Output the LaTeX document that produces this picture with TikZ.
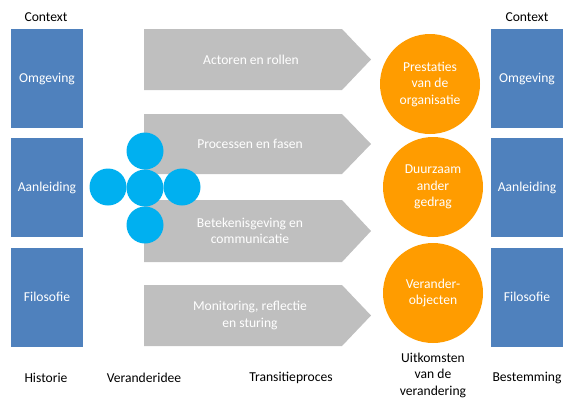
\documentclass[tikz,border=0pt]{standalone}
\usepackage{fontspec}
\setmainfont{Carlito}
\definecolor{boxblue}{HTML}{4F81BD}
\definecolor{arrowgrey}{HTML}{BFBFBF}
\definecolor{outorange}{HTML}{FF9C00}
\definecolor{ideacyan}{HTML}{00B0F0}
\tikzset{
  ctxbox/.style={fill=boxblue,text=white,minimum width=72pt,minimum height=99pt,inner sep=0pt},
  steptext/.style={text=white,align=center},
  outcome/.style={circle,fill=outorange,text=white,minimum size=100pt,inner sep=0pt,align=center},
  idea/.style={circle,fill=ideacyan,minimum size=37pt,inner sep=0pt},
  caption/.style={align=center}
}
\begin{document}
\begin{tikzpicture}[x=1pt,y=-1pt,font=\fontsize{13.6}{16.5}\selectfont]
\useasboundingbox (0,0) rectangle (565,400);
% context boxes
\node[ctxbox] (omg1) at (47,78.5) {Omgeving};
\node[ctxbox] (aan1) at (47,187.5) {Aanleiding};
\node[ctxbox] (fil1) at (47,297) {Filosofie};
\node[ctxbox] (omg2) at (527,78.5) {Omgeving};
\node[ctxbox] (aan2) at (527,187.5) {Aanleiding};
\node[ctxbox] (fil2) at (527,297) {Filosofie};
\node (ctx1) at (46,17) {Context};
\node (ctx2) at (527,17) {Context};
% transition arrows
\fill[arrowgrey] (144,29) -- (342,29) -- (371,59.5) -- (342,90) -- (144,90) -- cycle;
\fill[arrowgrey] (144,114) -- (342,114) -- (371,144) -- (342,174) -- (144,174) -- cycle;
\fill[arrowgrey] (144,200) -- (342,200) -- (371,231) -- (342,262) -- (144,262) -- cycle;
\fill[arrowgrey] (144,285) -- (342,285) -- (371,315.5) -- (342,346) -- (144,346) -- cycle;
\node[steptext] (actor) at (251,60) {Actoren en rollen};
\node[steptext] (proc) at (250,144) {Processen en fasen};
\node[steptext] (beteken) at (250,231) {Betekenisgeving en\\communicatie};
\node[steptext] (monitor) at (250,315.5) {Monitoring, reflectie\\en sturing};
% idea circles
\node[idea] (ideaM) at (145,188) {};
\node[idea] (ideaN) at (145,151) {};
\node[idea] (ideaS) at (145,225) {};
\node[idea] (ideaW) at (108,187) {};
\node[idea] (ideaE) at (182,187) {};
% outcomes
\node[outcome] (prest) at (430,84) {Prestaties\\van de\\organisatie};
\node[outcome] (duur) at (433,187) {Duurzaam\\ander\\gedrag};
\node[outcome] (obj) at (433,293) {Verander-\\objecten};
% captions
\node[caption] (hist) at (46,378) {Historie};
\node[caption] (idee) at (144,378) {Veranderidee};
\node[caption] (trans) at (291,378) {Transitieproces};
\node[caption] (uitk) at (433,375) {Uitkomsten\\van de\\verandering};
\node[caption] (best) at (527,378) {Bestemming};
\end{tikzpicture}
\end{document}
